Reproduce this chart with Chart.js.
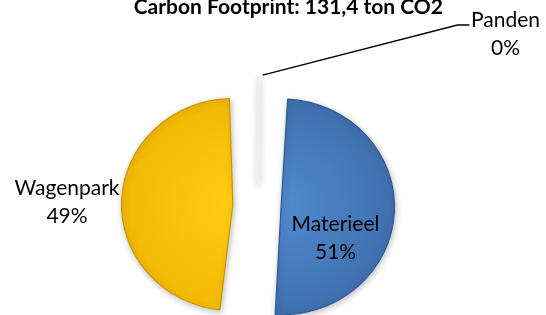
<!DOCTYPE html>
<html>
<head>
<meta charset="utf-8">
<script src="https://cdn.jsdelivr.net/npm/chart.js@4.4.1/dist/chart.umd.min.js"></script>
<style>
  html, body { margin: 0; padding: 0; background: #fff; overflow: hidden; }
  #wrap { position: relative; width: 546px; height: 315px; overflow: hidden; }
  #chart { position: absolute; left: 0; top: -10px; }
</style>
</head>
<body>
<div id="wrap"><canvas id="chart" width="546" height="420"></canvas></div>
<script>
// gegevens
var titel = 'Carbon Footprint: 131,4 ton CO2';
var categorieen = ['Panden', 'Materieel', 'Wagenpark'];
var uitstoot = [0.5, 67.0, 63.9]; // ton CO2
var totaal = uitstoot.reduce(function (a, b) { return a + b; }, 0);
var percentages = uitstoot.map(function (v) { return Math.round(v / totaal * 100) + '%'; });

var lettertype = 'Lato, "Open Sans", sans-serif';
var schaal = 1.05; // taart iets breder dan hoog (3D-look)

// kleurverloop per segment (licht midden, donkerder rand)
var kleuren = {
  Panden: ['#f6f6f6', '#e8e8e8'],
  Materieel: ['#5088cc', '#3c6dab'],
  Wagenpark: ['#ffca12', '#f3b600']
};
var randKleuren = ['#eeeeee', '#2f5b93', '#c99a00'];

function vulling(context) {
  var chart = context.chart;
  var area = chart.chartArea;
  if (!area) return '#ccc';
  var naam = categorieen[context.dataIndex];
  var x = (area.left + area.right) / 2;
  var y = (area.top + area.bottom) / 2;
  var g = chart.ctx.createRadialGradient(x, y, 10, x, y, 120);
  g.addColorStop(0, kleuren[naam][0]);
  g.addColorStop(1, kleuren[naam][1]);
  return g;
}

var schaduw = {
  id: 'schaduw',
  beforeDatasetsDraw: function (chart) {
    var c = chart.ctx;
    var a = chart.chartArea;
    var mx = (a.left + a.right) / 2;
    c.save();
    c.translate(mx, 0);
    c.scale(schaal, 1);
    c.translate(-mx, 0);
    c.shadowColor = 'rgba(0,0,0,0.25)';
    c.shadowBlur = 6;
    c.shadowOffsetX = 1;
    c.shadowOffsetY = 2;
  },
  afterDatasetsDraw: function (chart) {
    chart.ctx.restore();
  }
};

// labels: naam + percentage
var labels = {
  id: 'labels',
  afterDraw: function (chart) {
    var ctx = chart.ctx;
    var a = chart.chartArea;
    var mx = (a.left + a.right) / 2;
    var meta = chart.getDatasetMeta(0);
    var ds = chart.data.datasets[0];
    ctx.save();
    ctx.fillStyle = '#000';
    ctx.font = '21px ' + lettertype;
    ctx.textAlign = 'center';
    ctx.textBaseline = 'middle';
    meta.data.forEach(function (arc, i) {
      var p = arc.getProps(['x', 'y', 'startAngle', 'endAngle', 'outerRadius', 'circumference']);
      var mid = (p.startAngle + p.endAngle) / 2;
      var off = ds.offset[i] / 4; // Chart.js v4 tekent offset / 4
      var fix = 1 - Math.sin(Math.min(Math.PI, p.circumference || 0));
      var cx = mx + (p.x + Math.cos(mid) * off - mx) * schaal;
      var cy = p.y + Math.sin(mid) * off;
      var r = p.outerRadius + off * fix; // straal zoals getekend
      var rh = r * schaal;
      var naam = categorieen[i];
      var lx, ly;
      if (naam === 'Materieel') {
        lx = cx + 0.48 * rh; ly = cy + 0.29 * r;
      } else if (naam === 'Wagenpark') {
        lx = cx - 1.49 * rh; ly = cy - 0.02 * r;
      } else {
        // lijn naar label
        var sx = cx + Math.cos(mid) * rh + 4, sy = cy + Math.sin(mid) * r - 2;
        var ex = cx + 1.79 * rh, ey = cy - 1.49 * r;
        ctx.strokeStyle = '#000';
        ctx.lineWidth = 1.5;
        ctx.beginPath();
        ctx.moveTo(sx, sy);
        ctx.lineTo(ex, ey);
        ctx.lineTo(ex + 12, ey);
        ctx.stroke();
        lx = cx + 2.22 * rh; ly = cy - 1.4 * r;
      }
      ctx.fillText(naam, lx, ly - 14);
      ctx.fillText(percentages[i], lx, ly + 14);
    });
    ctx.restore();
  }
};

var ctx = document.getElementById('chart').getContext('2d');
var chart = new Chart(ctx, {
  type: 'pie',
  data: {
    labels: categorieen,
    datasets: [{
      data: uitstoot,
      backgroundColor: vulling,
      borderColor: randKleuren,
      borderWidth: [3, 1.2, 1.2],
      offset: [88, 92, 92],
      radius: 85,
      clip: false
    }]
  },
  options: {
    responsive: false,
    animation: false,
    layout: { padding: { left: 71, right: 103, top: 3, bottom: 19 } },
    plugins: {
      legend: { display: false },
      tooltip: { enabled: false },
      title: {
        display: true,
        text: titel,
        align: 'end',
        color: '#000',
        font: { family: lettertype, size: 21, weight: 'bold' },
        padding: { top: 2, bottom: 0 }
      }
    }
  },
  plugins: [schaduw, labels]
});
</script>
</body>
</html>
